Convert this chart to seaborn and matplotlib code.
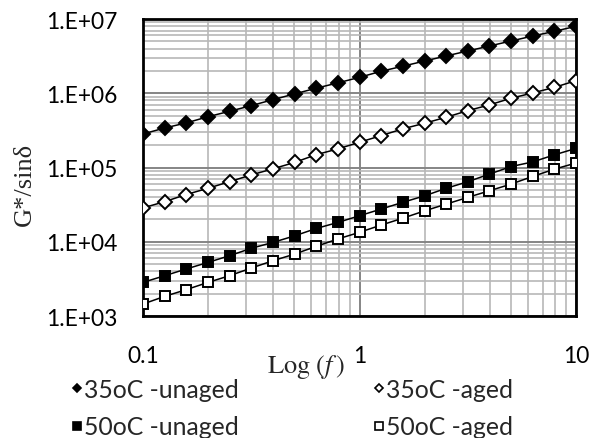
import matplotlib
matplotlib.use("Agg")
import matplotlib.pyplot as plt
from matplotlib.lines import Line2D
from matplotlib.ticker import FixedLocator, FixedFormatter, LogLocator, NullFormatter
import seaborn as sns

# frequency (Hz), 10 points per decade
freq = [0.1, 0.126, 0.158, 0.2, 0.251, 0.316, 0.398, 0.501, 0.631, 0.794,
        1.0, 1.26, 1.58, 2.0, 2.51, 3.16, 3.98, 5.01, 6.31, 7.94, 10.0]

g_35_unaged = [2.83e5, 3.41e5, 3.98e5, 4.84e5, 5.72e5, 6.81e5, 8.2e5, 9.8e5, 1.17e6, 1.38e6,
               1.64e6, 1.98e6, 2.31e6, 2.72e6, 3.18e6, 3.71e6, 4.33e6, 5.06e6, 5.9e6, 6.83e6, 7.98e6]
g_35_aged = [2.86e4, 3.47e4, 4.32e4, 5.26e4, 6.45e4, 7.94e4, 9.6e4, 1.17e5, 1.49e5, 1.78e5,
             2.19e5, 2.69e5, 3.31e5, 3.95e5, 4.75e5, 5.83e5, 6.97e5, 8.57e5, 1.01e6, 1.20e6, 1.48e6]
g_50_unaged = [2.84e3, 3.49e3, 4.29e3, 5.28e3, 6.49e3, 8.15e3, 9.8e3, 1.2e4, 1.51e4, 1.82e4,
               2.24e4, 2.76e4, 3.39e4, 4.16e4, 5.24e4, 6.43e4, 8.15e4, 1.03e5, 1.19e5, 1.48e5, 1.81e5]
g_50_aged = [1.45e3, 1.84e3, 2.26e3, 2.84e3, 3.49e3, 4.42e3, 5.55e3, 6.82e3, 8.67e3, 1.09e4,
             1.34e4, 1.68e4, 2.07e4, 2.61e4, 3.21e4, 3.96e4, 4.86e4, 5.98e4, 7.59e4, 9.5e4, 1.15e5]

labels = ["35oC -unaged", "35oC -aged", "50oC -unaged", "50oC -aged"]
x_ticks = [0.1, 1, 10]
x_ticklabels = ["0.1", "1", "10"]
y_ticks = [1e3, 1e4, 1e5, 1e6, 1e7]
y_ticklabels = ["1.E+03", "1.E+04", "1.E+05", "1.E+06", "1.E+07"]

sns.set_style("white")
plt.rcParams["font.family"] = ["Lato", "DejaVu Sans"]
plt.rcParams["mathtext.fontset"] = "stix"

fig = plt.figure(figsize=(5.89, 4.39), dpi=100)
ax = fig.add_axes([0.2428, 0.2779, 0.7352, 0.6765])

series = [g_35_unaged, g_35_aged, g_50_unaged, g_50_aged]
markers = ["D", "D", "s", "s"]
faces = ["black", "white", "black", "white"]
sizes = [7.4, 7.4, 7.8, 7.8]
for vals, m, fc, ms in zip(series, markers, faces, sizes):
    sns.lineplot(x=freq, y=vals, ax=ax, color="black", lw=1.1, marker=m,
                 markersize=ms, markerfacecolor=fc, markeredgecolor="black",
                 markeredgewidth=1.4, zorder=3)

ax.set_xscale("log")
ax.set_yscale("log")
ax.set_xlim(0.1, 10)
ax.set_ylim(1e3, 1e7)

ax.xaxis.set_major_locator(FixedLocator(x_ticks))
ax.xaxis.set_major_formatter(FixedFormatter(x_ticklabels))
ax.yaxis.set_major_locator(FixedLocator(y_ticks))
ax.yaxis.set_major_formatter(FixedFormatter(y_ticklabels))
for a in (ax.xaxis, ax.yaxis):
    a.set_minor_locator(LogLocator(base=10, subs=range(2, 10)))
    a.set_minor_formatter(NullFormatter())

ax.set_axisbelow(True)
ax.grid(which="minor", color="#b8b8b8", lw=1.2)
ax.grid(which="major", color="#858585", lw=1.4)

ax.tick_params(axis="y", which="major", direction="inout", length=9.4, width=1.5,
               pad=14, labelsize=16.4, colors="black")
ax.tick_params(axis="x", which="major", direction="inout", length=9.4, width=1.5,
               pad=16.5, labelsize=16.4, colors="black")
ax.tick_params(which="minor", direction="in", length=3.6, width=1.5, color="black")

for sp in ax.spines.values():
    sp.set_visible(True)
    sp.set_color("black")
    sp.set_linewidth(2.0)

fig.text(25 / 589, 1 - 184 / 439, "G*/sinδ", rotation=90, ha="center", va="center",
         family="Liberation Serif", fontsize=19)
fig.text(306 / 589, 1 - 367 / 439, r"$\mathrm{Log}\ (f\,)$", ha="center", va="center",
         fontsize=19)

def handle(m, fc, ms):
    return Line2D([], [], ls="none", marker=m, markersize=ms, markerfacecolor=fc,
                  markeredgecolor="black", markeredgewidth=1.2)

leg_kw = dict(loc="center left", frameon=False, fontsize=17.8, handlelength=0.4,
              handletextpad=0.08, borderpad=0, borderaxespad=0, labelspacing=0.6,
              bbox_transform=fig.transFigure)
fig.legend([handle("D", "black", 4.3), handle("s", "black", 5.2)],
           [labels[0], labels[2]], bbox_to_anchor=(72 / 589, 1 - 409 / 439), **leg_kw)
fig.legend([handle("D", "white", 4.1), handle("s", "white", 5.2)],
           [labels[1], labels[3]], bbox_to_anchor=(374 / 589, 1 - 409 / 439), **leg_kw)

fig.savefig("out.png", dpi=100)
